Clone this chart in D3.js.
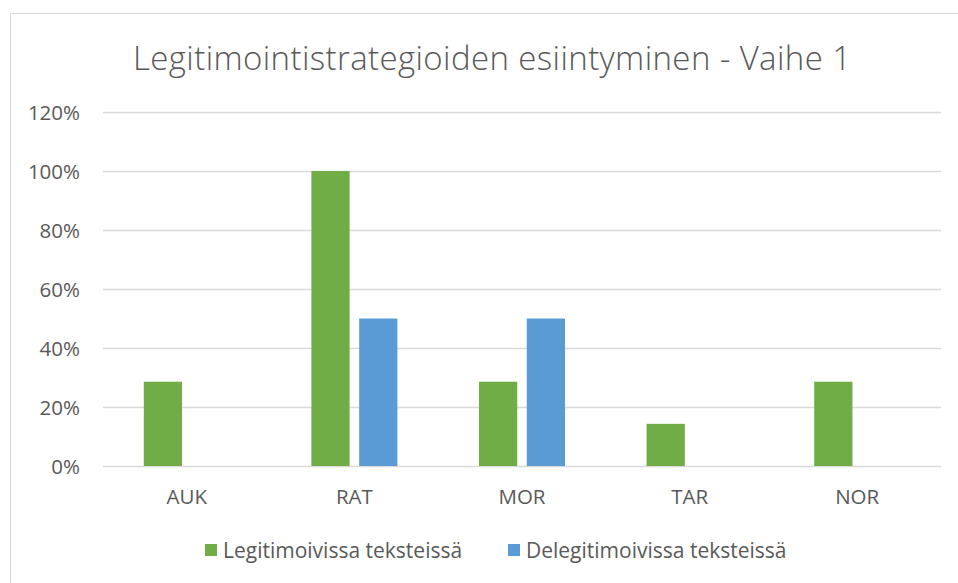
<!DOCTYPE html>
<html>
<head>
<meta charset="utf-8">
<script src="https://d3js.org/d3.v7.min.js"></script>
<style>
  body { margin: 0; background: #fff; }
  text { font-family: "Open Sans", "Noto Sans", sans-serif; fill: #595959; }
</style>
</head>
<body>
<div id="chart"></div>
<script>
const categories = ['AUK', 'RAT', 'MOR', 'TAR', 'NOR'];
const seriesNames = ['Legitimoivissa teksteissä', 'Delegitimoivissa teksteissä'];
const legitValues = [0.2857, 1.0, 0.2857, 0.1429, 0.2857];
const delegitValues = [0, 0.5, 0.5, 0, 0];
const yTicks = [0, 0.2, 0.4, 0.6, 0.8, 1.0, 1.2];
const colors = ['#70ad47', '#5b9bd5'];

const width = 958, height = 583;
const margin = {top: 112, right: 17, bottom: 117, left: 103};
const innerW = width - margin.left - margin.right,
      innerH = height - margin.top - margin.bottom;

const svg = d3.select('#chart').append('svg')
  .attr('width', width).attr('height', height);

// chart area frame
svg.append('rect')
  .attr('x', 10.5).attr('y', 13.5)
  .attr('width', 960).attr('height', 600)
  .attr('fill', 'none').attr('stroke', '#d9d9d9');

svg.append('text')
  .attr('x', 492).attr('y', 70)
  .attr('text-anchor', 'middle')
  .style('font-size', '33px')
  .style('font-weight', 300)
  .attr('textLength', 718).attr('lengthAdjust', 'spacing')
  .text('Legitimointistrategioiden esiintyminen - Vaihe 1');

const g = svg.append('g').attr('transform', `translate(${margin.left},${margin.top})`);

const x = d3.scaleBand().domain(categories).range([0, innerW]);
const x1 = d3.scaleBand().domain(seriesNames).range([0, 86]).paddingInner(0.2);
const y = d3.scaleLinear().domain([0, 1.2]).range([innerH, 0]);

// gridlines
g.selectAll('.grid').data(yTicks).enter().append('line')
  .attr('x1', 0).attr('x2', innerW)
  .attr('y1', d => Math.round(y(d)) + 0.5).attr('y2', d => Math.round(y(d)) + 0.5)
  .attr('stroke', '#d9d9d9').attr('stroke-width', 1.3);

// y axis labels
const yAxis = d3.axisLeft(y).tickValues(yTicks).tickFormat(d3.format('.0%')).tickSize(0).tickPadding(23);
const ya = g.append('g').call(yAxis);
ya.select('.domain').remove();
ya.selectAll('text').style('font-size', '20.5px').attr('fill', '#595959').attr('dy', '0.35em');

// x axis labels
const xAxis = d3.axisBottom(x).tickSize(0).tickPadding(23);
const xa = g.append('g').attr('transform', `translate(0,${innerH})`).call(xAxis);
xa.select('.domain').remove();
xa.selectAll('text').style('font-size', '20.5px').attr('fill', '#595959');

const rows = categories.map((c, i) => ({cat: c, vals: [legitValues[i], delegitValues[i]]}));

const groups = g.selectAll('.grp').data(rows).enter().append('g')
  .attr('transform', d => `translate(${x(d.cat) + x.bandwidth() / 2 - 43},0)`);

groups.selectAll('rect').data(d => d.vals.map((v, j) => ({v, j})))
  .enter().append('rect')
  .attr('x', d => x1(seriesNames[d.j]))
  .attr('width', x1.bandwidth())
  .attr('y', d => y(d.v))
  .attr('height', d => innerH - y(d.v))
  .attr('fill', d => colors[d.j])
  .attr('display', d => d.v > 0 ? null : 'none');

// legend
const legendX = [205, 508];
const legend = svg.append('g');
seriesNames.forEach((name, i) => {
  legend.append('rect')
    .attr('x', legendX[i]).attr('y', 544)
    .attr('width', 12).attr('height', 12)
    .attr('fill', colors[i]);
  legend.append('text')
    .attr('x', legendX[i] + 18).attr('y', 558)
    .style('font-size', '21px')
    .text(name);
});
</script>
</body>
</html>
